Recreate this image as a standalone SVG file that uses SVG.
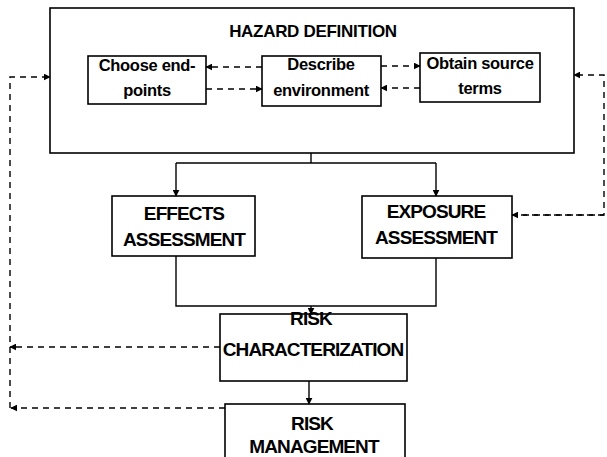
<svg xmlns="http://www.w3.org/2000/svg" width="607" height="457" viewBox="0 0 607 457">
  <defs>
    <marker id="arr" viewBox="0 0 10 10" refX="9" refY="5" markerWidth="7" markerHeight="7" markerUnits="userSpaceOnUse" orient="auto">
      <path d="M0,0 L10,5 L0,10 z" fill="#000"/>
    </marker>
    <style>
      .box { fill: #fff; stroke: #000; stroke-width: 1.6; }
      .ln { fill: none; stroke: #000; stroke-width: 1.4; }
      .dash { fill: none; stroke: #000; stroke-width: 1.4; stroke-dasharray: 6 5; }
      .t { font-family: "Liberation Sans", Arial, sans-serif; font-weight: bold; fill: #000; text-anchor: middle; }
      .big { font-size: 19px; letter-spacing: -0.9px; }
      .mid { font-size: 17px; letter-spacing: -0.3px; }
      .sm { font-size: 16.5px; letter-spacing: -0.3px; }
    </style>
  </defs>

  <!-- outer hazard definition panel -->
  <g id="hazard-definition">
    <rect class="box" x="50" y="8" width="524" height="145"/>
    <text class="t mid" x="313" y="37">HAZARD DEFINITION</text>
  </g>

  <g id="choose-endpoints">
    <rect class="box" x="88" y="56" width="118" height="48"/>
    <text class="t sm" x="147" y="71">Choose end-</text>
    <text class="t sm" x="147" y="96">points</text>
  </g>

  <g id="describe-environment">
    <rect class="box" x="262" y="56" width="119" height="50"/>
    <text class="t sm" x="321" y="70">Describe</text>
    <text class="t sm" x="321" y="96">environment</text>
  </g>

  <g id="obtain-source-terms">
    <rect class="box" x="420" y="53" width="120" height="49"/>
    <text class="t sm" x="480" y="69">Obtain source</text>
    <text class="t sm" x="480" y="94">terms</text>
  </g>

  <g id="effects-assessment">
    <rect class="box" x="112" y="196" width="143" height="60"/>
    <text class="t big" x="184" y="220">EFFECTS</text>
    <text class="t big" x="184" y="246">ASSESSMENT</text>
  </g>

  <g id="exposure-assessment">
    <rect class="box" x="362" y="196" width="150" height="62"/>
    <text class="t big" x="436" y="218">EXPOSURE</text>
    <text class="t big" x="436" y="244">ASSESSMENT</text>
  </g>

  <g id="risk-characterization">
    <rect class="box" x="220" y="314" width="187" height="67"/>
    <text class="t big" x="311" y="325">RISK</text>
    <text class="t big" x="313" y="356">CHARACTERIZATION</text>
  </g>

  <g id="risk-management">
    <rect class="box" x="225" y="404" width="180" height="60"/>
    <text class="t big" x="312" y="430">RISK</text>
    <text class="t big" x="314" y="453">MANAGEMENT</text>
  </g>

  <g id="connectors">
    <!-- hazard definition splits into the two assessments -->
    <path class="ln" d="M311,153 V163"/>
    <path class="ln" d="M176,163 H436"/>
    <path class="ln" d="M176,163 V196" marker-end="url(#arr)"/>
    <path class="ln" d="M436,163 V196" marker-end="url(#arr)"/>
    <!-- assessments merge into risk characterization -->
    <path class="ln" d="M176,256 V306 H436 V258"/>
    <path class="ln" d="M311,306 V314" marker-end="url(#arr)"/>
    <path class="ln" d="M309,381 V404" marker-end="url(#arr)"/>

    <!-- exchanges inside hazard definition -->
    <path class="dash" d="M262,67 H206" marker-end="url(#arr)"/>
    <path class="dash" d="M206,89 H262" marker-end="url(#arr)"/>
    <path class="dash" d="M381,66 H420" marker-end="url(#arr)"/>
    <path class="dash" d="M420,88 H381" marker-end="url(#arr)"/>

    <!-- feedback loops -->
    <path class="dash" d="M10,408 V77 H50" marker-end="url(#arr)"/>
    <path class="dash" d="M220,347 H10" marker-end="url(#arr)"/>
    <path class="dash" d="M225,408 H11" marker-end="url(#arr)"/>
    <path class="dash" d="M512,215 H604 V75 H574" marker-end="url(#arr)"/>
    <path class="dash" d="M604,215 H512" marker-end="url(#arr)"/>
  </g>
</svg>
